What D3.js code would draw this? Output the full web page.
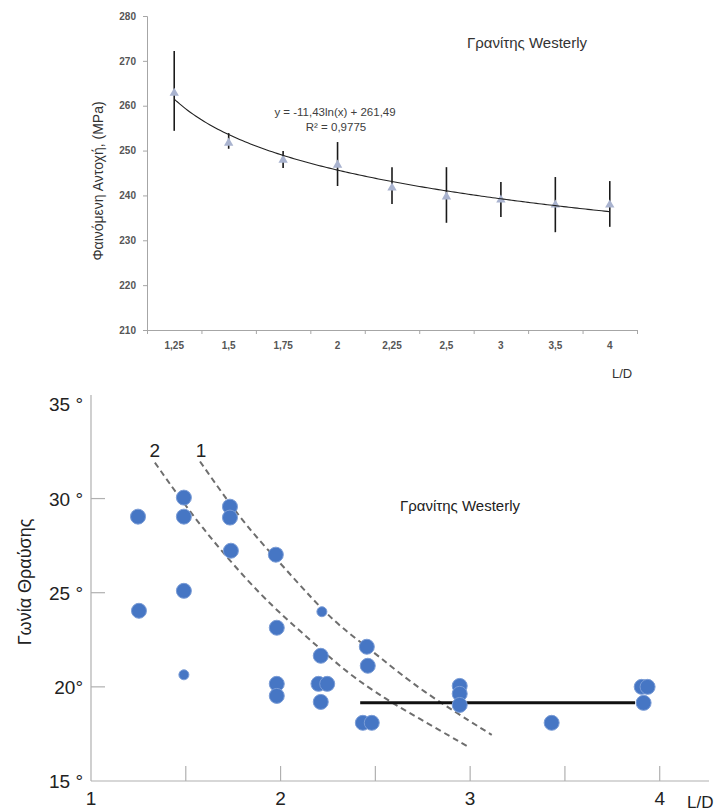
<!DOCTYPE html>
<html>
<head>
<meta charset="utf-8">
<script src="https://cdn.jsdelivr.net/npm/d3@7"></script>
<style>
  body { margin: 0; background: #fff; }
  svg { display: block; }
</style>
</head>
<body>
<div id="chart"></div>
<script>
// top chart: apparent strength vs L/D
var topCategories = ["1,25", "1,5", "1,75", "2", "2,25", "2,5", "3", "3,5", "4"];
var topMeans = [262.8, 251.7, 247.9, 246.8, 241.7, 239.7, 239.0, 237.9, 237.9];
var topLow   = [254.4, 250.4, 246.1, 242.1, 238.1, 233.9, 235.2, 231.8, 233.0];
var topHigh  = [272.2, 253.9, 249.9, 251.9, 246.3, 246.3, 243.0, 244.1, 243.2];
var topTicks = [210, 220, 230, 240, 250, 260, 270, 280];
var trendA = -11.43, trendB = 261.49;

// bottom chart: fracture angle vs L/D
var scatterLD = [1.248, 1.49, 1.49, 1.733, 1.733, 1.738, 1.975, 1.49,
  1.253, 1.49, 1.98, 1.98, 1.98, 2.218, 2.212, 2.20, 2.246, 2.212,
  2.455, 2.46, 2.434, 2.481, 2.945, 2.945, 2.945, 3.43, 3.905, 3.936, 3.915];
var scatterAngle = [29.04, 30.05, 29.04, 29.57, 28.99, 27.23, 27.02, 25.1,
  24.04, 20.64, 23.14, 20.16, 19.52, 23.99, 21.65, 20.16, 20.16, 19.2,
  22.13, 21.12, 18.09, 18.09, 20.05, 19.63, 19.04, 18.09, 20.0, 20.0, 19.15];
var smallIdx = [9, 13];
var curve1LD = [1.575, 1.801, 1.996, 2.170, 2.313, 2.523, 2.734, 3.114];
var curve1Angle = [31.97, 28.72, 26.60, 24.63, 23.19, 21.60, 19.84, 17.45];
var curve2LD = [1.337, 1.575, 1.907, 2.139, 2.350, 2.560, 2.718, 2.982];
var curve2Angle = [31.91, 28.51, 24.68, 22.66, 20.74, 19.31, 18.40, 16.86];
var meanLineLD = [2.42, 3.87];
var meanLineAngle = [19.15, 19.15];
var bottomXTicks = [1.5, 2, 2.5, 3, 3.5, 4];
var bottomXLabels = [1, 2, 3, 4];
var bottomYTicks = [15, 20, 25, 30, 35];
var bottomYLabels = ["15 °", "20°", "25 °", "30 °", "35 °"];

var svg = d3.select("#chart").append("svg")
  .attr("width", 716).attr("height", 811);

// ---------- top chart ----------
var tFont = "Liberation Sans, Arial, sans-serif";
var xBand = d3.scaleBand().domain(topCategories).range([147, 637]);
var xIdx = d3.scaleLinear().domain([0, 9]).range([147, 637]);
var yTop = d3.scaleLinear().domain([210, 280]).range([330, 16]);
var xTrend = d3.scaleLinear().domain([1, 9])
  .range([xBand(topCategories[0]) + xBand.bandwidth() / 2,
          xBand(topCategories[8]) + xBand.bandwidth() / 2]);

var gTop = svg.append("g");

var yAxisTop = d3.axisLeft(yTop).tickValues(topTicks).tickSize(4).tickPadding(7);
gTop.append("g").attr("transform", "translate(147,0)").call(yAxisTop)
  .call(function(g) {
    g.selectAll("path,line").attr("stroke", "#a6a6a6");
    g.selectAll("text").attr("fill", "#555").attr("font-size", "10px")
      .attr("font-weight", "bold").attr("font-family", tFont);
  });

// x axis line and boundary ticks
gTop.append("g").attr("transform", "translate(0,330)")
  .call(d3.axisBottom(xIdx).ticks(9).tickSize(4).tickFormat(""))
  .call(function(g) {
    g.selectAll("path,line").attr("stroke", "#a6a6a6");
  });

gTop.append("g").selectAll("text").data(topCategories).enter().append("text")
  .attr("x", function(d) { return xBand(d) + xBand.bandwidth() / 2; })
  .attr("y", 349)
  .attr("text-anchor", "middle")
  .attr("font-family", tFont).attr("font-size", "10px").attr("font-weight", "bold")
  .attr("fill", "#555")
  .text(function(d) { return d; });

// error bars
gTop.append("g").selectAll("line").data(topCategories).enter().append("line")
  .attr("x1", function(d) { return xBand(d) + xBand.bandwidth() / 2; })
  .attr("x2", function(d) { return xBand(d) + xBand.bandwidth() / 2; })
  .attr("y1", function(d, i) { return yTop(topLow[i]); })
  .attr("y2", function(d, i) { return yTop(topHigh[i]); })
  .attr("stroke", "#1a1a1a").attr("stroke-width", 1.6);

// triangles
gTop.append("g").selectAll("path").data(topCategories).enter().append("path")
  .attr("d", d3.symbol().type(d3.symbolTriangle).size(38))
  .attr("transform", function(d, i) {
    return "translate(" + (xBand(d) + xBand.bandwidth() / 2) + "," + yTop(topMeans[i]) + ")";
  })
  .attr("fill", "#a9b3cf");

// log trend line
var trendPts = d3.range(1, 9.001, 0.05);
gTop.append("path")
  .datum(trendPts)
  .attr("fill", "none").attr("stroke", "#222").attr("stroke-width", 1.1)
  .attr("d", d3.line()
    .x(function(d) { return xTrend(d); })
    .y(function(d) { return yTop(trendA * Math.log(d) + trendB); }));

gTop.append("text").attr("x", 335).attr("y", 116).attr("text-anchor", "middle")
  .attr("font-family", tFont).attr("font-size", "11.5px").attr("fill", "#404040")
  .text("y = -11,43ln(x) + 261,49");
gTop.append("text").attr("x", 336).attr("y", 131).attr("text-anchor", "middle")
  .attr("font-family", tFont).attr("font-size", "11.5px").attr("fill", "#404040")
  .text("R² = 0,9775");

gTop.append("text").attr("x", 527).attr("y", 48).attr("text-anchor", "middle")
  .attr("font-family", tFont).attr("font-size", "15px").attr("fill", "#333")
  .text("Γρανίτης Westerly");

gTop.append("text").attr("transform", "translate(103,181) rotate(-90)")
  .attr("text-anchor", "middle")
  .attr("font-family", tFont).attr("font-size", "14px").attr("fill", "#333")
  .text("Φαινόμενη Αντοχή, (MPa)");

gTop.append("text").attr("x", 612).attr("y", 378)
  .attr("font-family", tFont).attr("font-size", "13px").attr("fill", "#333")
  .text("L/D");

// ---------- bottom chart ----------
var bFont = "Liberation Sans Narrow, Arial Narrow, Liberation Sans, Arial, sans-serif";
var xB = d3.scaleLinear().domain([1, 4.26]).range([91, 709]);
var yB = d3.scaleLinear().domain([15, 35.5]).range([781, 395]);

var bot = svg.append("g");

bot.append("line").attr("x1", xB(1)).attr("x2", xB(1))
  .attr("y1", yB(35.5)).attr("y2", yB(15))
  .attr("stroke", "#b0b0b0").attr("stroke-width", 1.2);
bot.append("line").attr("x1", xB(1)).attr("x2", xB(4.26))
  .attr("y1", yB(15)).attr("y2", yB(15))
  .attr("stroke", "#b0b0b0").attr("stroke-width", 1.2);

bot.append("g").selectAll("line").data(bottomXTicks).enter().append("line")
  .attr("x1", function(d) { return xB(d); }).attr("x2", function(d) { return xB(d); })
  .attr("y1", yB(15)).attr("y2", yB(15) - 15)
  .attr("stroke", "#b0b0b0").attr("stroke-width", 1.2);

bot.append("g").selectAll("line").data([20, 25, 30]).enter().append("line")
  .attr("x1", xB(1)).attr("x2", xB(1) + 14)
  .attr("y1", function(d) { return yB(d); }).attr("y2", function(d) { return yB(d); })
  .attr("stroke", "#b0b0b0").attr("stroke-width", 1.2);

bot.append("g").selectAll("text").data(bottomXLabels).enter().append("text")
  .attr("x", function(d) { return xB(d); }).attr("y", 805)
  .attr("text-anchor", "middle")
  .attr("font-family", bFont).attr("font-size", "19px").attr("fill", "#222")
  .text(function(d) { return d; });

bot.append("g").selectAll("text").data(bottomYTicks).enter().append("text")
  .attr("x", 83).attr("y", function(d) { return yB(d) + 7; })
  .attr("text-anchor", "end")
  .attr("font-family", bFont).attr("font-size", "19px").attr("fill", "#222")
  .text(function(d, i) { return bottomYLabels[i]; });

bot.append("text").attr("x", 687).attr("y", 808)
  .attr("font-family", bFont).attr("font-size", "17px").attr("fill", "#222")
  .text("L/D");

bot.append("text").attr("transform", "translate(31,582) rotate(-90)")
  .attr("text-anchor", "middle")
  .attr("font-family", bFont).attr("font-size", "18px").attr("fill", "#222")
  .text("Γωνία Θραύσης");

bot.append("text").attr("x", 460).attr("y", 511).attr("text-anchor", "middle")
  .attr("font-family", tFont).attr("font-size", "15px").attr("fill", "#222")
  .text("Γρανίτης Westerly");

// dashed curves
var dashLine = d3.line().curve(d3.curveBasis)
  .x(function(d) { return xB(d[0]); })
  .y(function(d) { return yB(d[1]); });
[[curve1LD, curve1Angle], [curve2LD, curve2Angle]].forEach(function(c) {
  bot.append("path")
    .datum(d3.zip(c[0], c[1]))
    .attr("fill", "none").attr("stroke", "#6e6e6e").attr("stroke-width", 2)
    .attr("stroke-dasharray", "6,4")
    .attr("d", dashLine);
});

bot.append("text").attr("x", xB(1.337)).attr("y", 457).attr("text-anchor", "middle")
  .attr("font-family", bFont).attr("font-size", "19px").attr("fill", "#222").text("2");
bot.append("text").attr("x", xB(1.58)).attr("y", 457).attr("text-anchor", "middle")
  .attr("font-family", bFont).attr("font-size", "19px").attr("fill", "#222").text("1");

// mean line
bot.append("line")
  .attr("x1", xB(meanLineLD[0])).attr("x2", xB(meanLineLD[1]))
  .attr("y1", yB(meanLineAngle[0])).attr("y2", yB(meanLineAngle[1]))
  .attr("stroke", "#111").attr("stroke-width", 3);

// points
bot.append("g").selectAll("circle").data(scatterLD).enter().append("circle")
  .attr("cx", function(d) { return xB(d); })
  .attr("cy", function(d, i) { return yB(scatterAngle[i]); })
  .attr("r", function(d, i) { return smallIdx.indexOf(i) >= 0 ? 5 : 7.5; })
  .attr("fill", "#4676c4")
  .attr("stroke", "#7a9cd6").attr("stroke-width", 1);
</script>
</body>
</html>
